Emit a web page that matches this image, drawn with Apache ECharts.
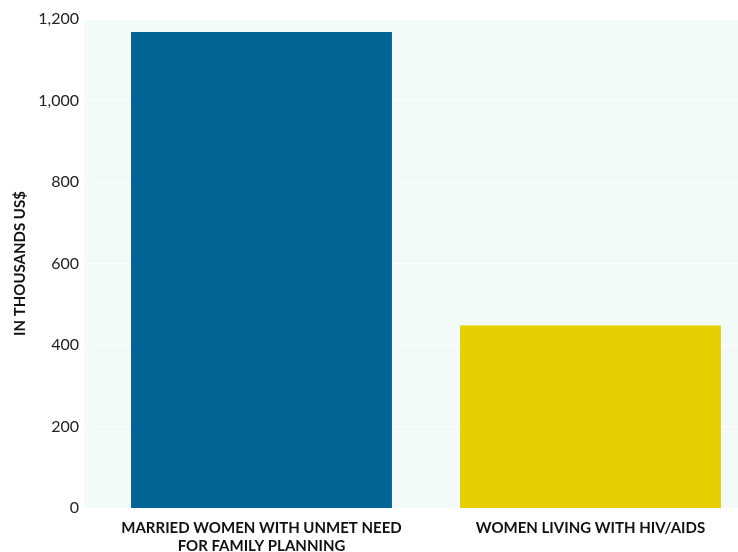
<!DOCTYPE html>
<html><head><meta charset="utf-8">
<script src="https://cdn.jsdelivr.net/npm/echarts@6/dist/echarts.min.js"></script>
<style>html,body{margin:0;padding:0;background:#fff;overflow:hidden;width:738px;height:552px}#c{width:760px;height:552px}</style>
</head><body><div id="c"></div>
<script>
var categories = ['MARRIED WOMEN WITH UNMET NEED\nFOR FAMILY PLANNING', 'WOMEN LIVING WITH HIV/AIDS'];
var values = [1168, 448];
var colors = ['#006494', '#e6cf00'];
var yTicks = [0, 200, 400, 600, 800, 1000, 1200];
var chart = echarts.init(document.getElementById('c'));
var font = 'Lato, "DejaVu Sans", sans-serif';
chart.setOption({
  animation: false,
  grid: [
    {left: 84, right: 22, top: 19, bottom: 44, show: true, backgroundColor: '#f2fbfa', borderWidth: 0, outerBoundsMode: 'none', containLabel: false},
    {left: 97, width: 658, top: 19, bottom: 44, outerBoundsMode: 'none', containLabel: false}
  ],
  xAxis: [
    {gridIndex: 0, type: 'category', data: categories, show: false},
    {gridIndex: 1, type: 'category', data: categories,
     axisLine: {show: false}, axisTick: {show: false},
     axisLabel: {interval: 0, color: '#111', fontWeight: 'bold', fontSize: 15, fontFamily: font, margin: 11, lineHeight: 18}}
  ],
  yAxis: [
    {gridIndex: 0, type: 'value', min: yTicks[0], max: yTicks[yTicks.length-1], interval: 200,
     name: 'IN THOUSANDS US$', nameLocation: 'middle', nameGap: 56,
     nameTextStyle: {color: '#111', fontWeight: 'bold', fontSize: 15, fontFamily: font},
     axisLine: {show: false}, axisTick: {show: false},
     axisLabel: {color: '#222', fontSize: 16, fontFamily: font, margin: 5,
       formatter: function(v){ return v.toLocaleString('en-US'); }},
     splitLine: {lineStyle: {color: '#ffffff', width: 1}}},
    {gridIndex: 1, type: 'value', min: yTicks[0], max: yTicks[yTicks.length-1], interval: 200, show: false, splitLine: {show: false}}
  ],
  series: [{
    type: 'bar', xAxisIndex: 1, yAxisIndex: 1, barWidth: '79.3%',
    data: values.map(function(v, i){ return {value: v, itemStyle: {color: colors[i]}}; })
  }]
});
</script></body></html>
